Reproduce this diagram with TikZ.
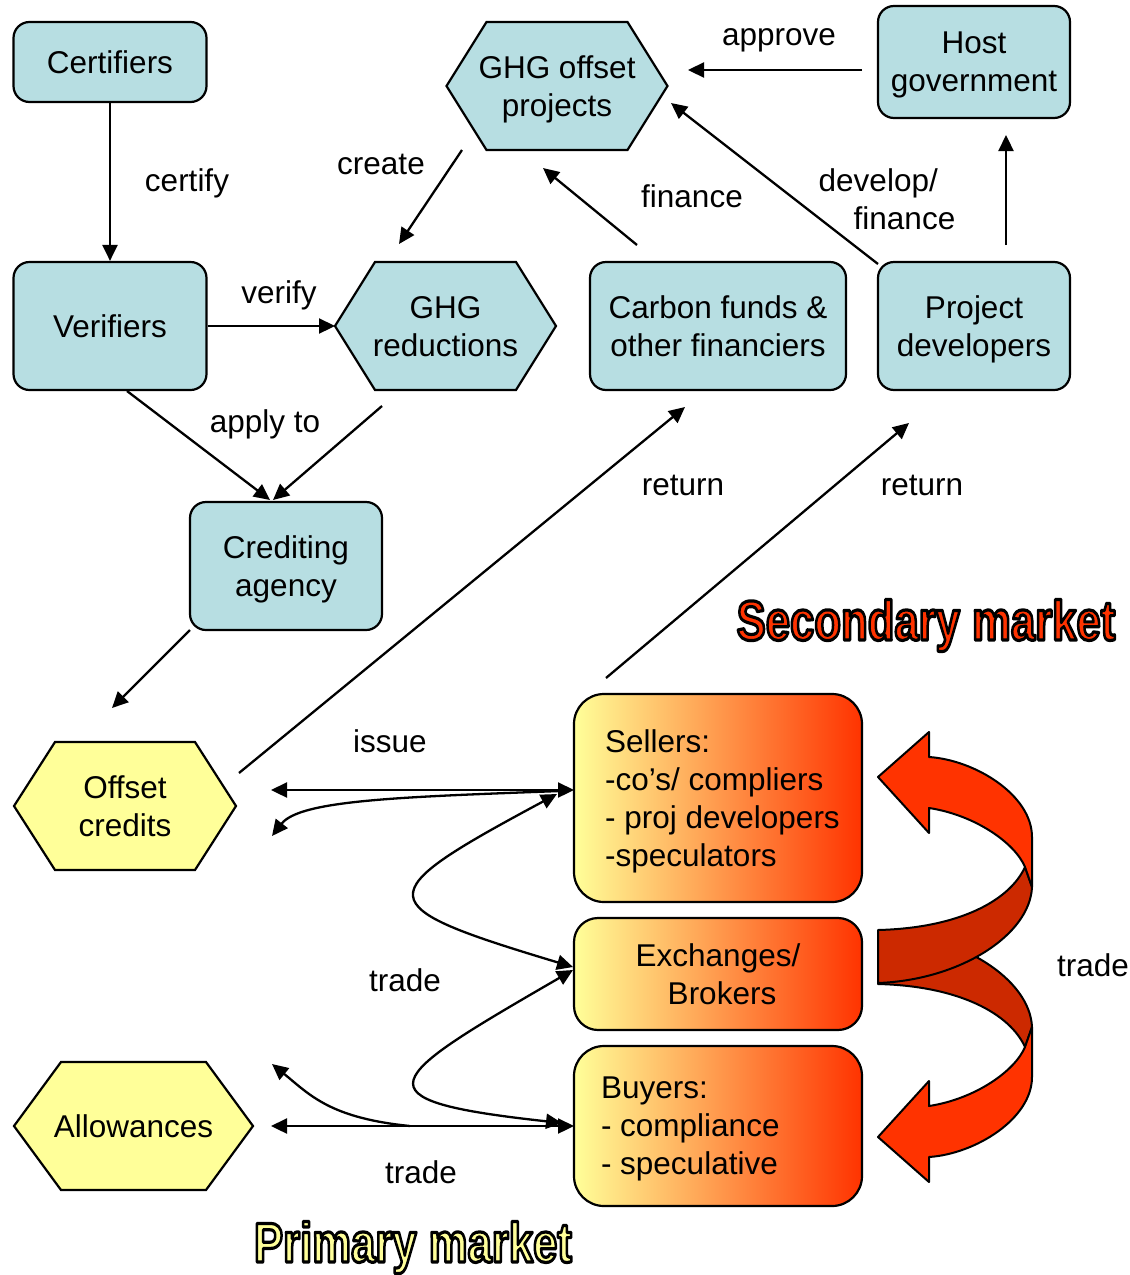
\documentclass[tikz,border=0pt]{standalone}
\usepackage{fontspec}
\usepackage{graphicx}
\setmainfont{Liberation Sans}
\usetikzlibrary{arrows.meta,calc}
\definecolor{boxblue}{RGB}{183,222,226}
\definecolor{cyellow}{RGB}{255,255,153}
\definecolor{cred}{RGB}{255,51,0}
\definecolor{cdark}{RGB}{204,41,0}
\newcommand\hexshape[5]{%
  \filldraw[line width=2.2pt, fill=#5] ({#1-#3},{#2}) -- ({#1-#3+#4},{#2-64}) -- ({#1+#3-#4},{#2-64}) -- ({#1+#3},{#2}) -- ({#1+#3-#4},{#2+64}) -- ({#1-#3+#4},{#2+64}) -- cycle;}
\newcommand\ind{\hspace*{9pt}}
\newcommand\outlined[2]{\textcolor{#1}{\special{pdf:code q 2 Tr 3.2 w 0 0 0 RG 1 j}#2\special{pdf:code Q}}}
\begin{document}
\begin{tikzpicture}[x=1pt,y=-1pt,
  every node/.style={font=\fontsize{31.5}{38}\selectfont, align=center, inner sep=0pt, text depth=0pt},
  bluebox/.style={draw=black, line width=2.2pt, fill=boxblue, rounded corners=16pt},
  gradbox/.style={draw=black, line width=2.2pt, left color=cyellow, right color=cred, rounded corners=30pt},
  conn/.style={line width=2.3pt, -{Triangle[length=16pt,width=15pt]}},
  dconn/.style={line width=2.3pt, {Triangle[length=16pt,width=15pt]}-{Triangle[length=16pt,width=15pt]}},
  bigtxt/.style={font=\fontsize{56}{60}\bfseries\selectfont, anchor=base},
  ribbon/.style={draw=black, line width=2pt, line join=round}
]
\useasboundingbox (0,0) rectangle (1130,1275);

% ---- boxes ----
\node[bluebox, minimum width=193pt, minimum height=80pt] (cert) at (110,62) {Certifiers};
\node[bluebox, minimum width=193pt, minimum height=128pt] (ver) at (110,326) {Verifiers};
\node[bluebox, minimum width=192pt, minimum height=112pt] (host) at (974,62) {Host\\government};
\node[bluebox, minimum width=256pt, minimum height=128pt] (cf) at (718,326) {Carbon funds \&\\other financiers};
\node[bluebox, minimum width=192pt, minimum height=128pt] (pd) at (974,326) {Project\\developers};
\node[bluebox, minimum width=192pt, minimum height=128pt] (ca) at (286,566) {Crediting\\agency};
\node[gradbox, minimum width=288pt, minimum height=208pt, align=left] (sel) at (718,798) {\ind Sellers:\\\ind-co’s/ compliers\\\ind- proj developers\\\ind-speculators};
\node[gradbox, rounded corners=24pt, minimum width=288pt, minimum height=112pt] (exch) at (718,974) {Exchanges/\\\hspace*{8pt}Brokers};
\node[gradbox, minimum width=288pt, minimum height=160pt, align=left] (buy) at (718,1126) {\makebox[234pt][l]{Buyers:}\\- compliance\\- speculative};

% ---- hexagons ----
\hexshape{557}{86}{110.5}{40}{boxblue}
\node (ghgp) at (557,86) {GHG offset\\projects};
\hexshape{445.5}{326}{110.5}{40}{boxblue}
\node (ghgr) at (445.5,326) {GHG\\reductions};
\hexshape{125}{806}{111}{41}{cyellow}
\node (oc) at (125,806) {Offset\\credits};
\hexshape{133.5}{1126}{119.5}{47}{cyellow}
\node (allw) at (133.5,1126) {Allowances};

% ---- free-end coordinates ----
\coordinate (ghgrW) at (335,326);
\coordinate (cr1) at (462,150); \coordinate (cr2) at (399,244);
\coordinate (ap1) at (862,70);  \coordinate (ap2) at (688,70);
\coordinate (fi1) at (637,245); \coordinate (fi2) at (543,168);
\coordinate (df1) at (878,264); \coordinate (df2) at (671,103);
\coordinate (ph1) at (1006,245); \coordinate (ph2) at (1006,135);
\coordinate (ap3) at (127,391); \coordinate (ap4) at (270,500);
\coordinate (ap5) at (382,406); \coordinate (ap6) at (273,500);
\coordinate (is1) at (190,630); \coordinate (is2) at (112,708);
\coordinate (rt1) at (239,773); \coordinate (rt2) at (685,407);
\coordinate (rt3) at (606,678); \coordinate (rt4) at (909,423);
\coordinate (ocE) at (271,790); \coordinate (selW) at (574,790);
\coordinate (ocE2) at (272,836); \coordinate (selW2) at (560,791);
\coordinate (selW3) at (557,794); \coordinate (exW1) at (573,967);
\coordinate (exW2) at (573,970); \coordinate (buW2) at (562,1123);
\coordinate (alE) at (271,1126); \coordinate (buW) at (574,1126);
\coordinate (alE2) at (272,1064); \coordinate (al3) at (410,1126);

% ---- connectors ----
\draw[conn] (cert.south) -- (ver.north);
\draw[conn] (ver.east) -- (ghgrW);
\draw[conn] (cr1) -- (cr2);
\draw[conn] (ap1) -- (ap2);
\draw[conn] (fi1) -- (fi2);
\draw[conn] (df1) -- (df2);
\draw[conn] (ph1) -- (ph2);
\draw[conn] (ap3) -- (ap4);
\draw[conn] (ap5) -- (ap6);
\draw[conn] (is1) -- (is2);
\draw[conn] (rt1) -- (rt2);
\draw[conn] (rt3) -- (rt4);
\draw[dconn] (ocE) -- (selW);
\draw[conn] (selW2) .. controls (400,797) and (300,800) .. (ocE2);
\draw[dconn] (selW3) .. controls (367,896) and (367,905) .. (exW1);
\draw[dconn] (exW2) .. controls (383,1080) and (351,1100) .. (buW2);
\draw[dconn] (alE) -- (buW);
\draw[conn] (al3) .. controls (330,1118) and (310,1095) .. (alE2);

% ---- labels ----
\node (lcert) at (187,180) {certify};
\node (lcreate) at (381,164) {create};
\node (lappr) at (779,37) {approve};
\node (lfin) at (692,196) {finance};
\node[align=left] (ldev) at (887,199.5) {develop/\\\hspace*{35pt}finance};
\node (lver) at (279,292) {verify};
\node (lapply) at (265,421) {apply to};
\node (lret1) at (683,485) {return};
\node (lret2) at (922,485) {return};
\node (liss) at (390,741) {issue};
\node (ltr1) at (405,980) {trade};
\node (ltr2) at (421,1172) {trade};
\node (ltr3) at (1093,965) {trade};

% ---- big red ribbon arrows ----
\foreach \s in {-1,1}{
  \filldraw[ribbon, fill=cdark]
    (878,{957-\s*27}) .. controls (960,{957-\s*29}) and (1010,{957-\s*57}) .. (1025,{957-\s*90})
    -- (1032,{957-\s*70})
    .. controls (1030,{957-\s*22}) and (960,{957+\s*23}) .. (878,{957+\s*26}) -- cycle;
  \filldraw[ribbon, fill=cred]
    (1025,{957-\s*90}) -- (1032,{957-\s*70}) -- (1032,{957-\s*120})
    .. controls (1032,{957-\s*162}) and (975,{957-\s*197}) .. (929,{957-\s*200})
    -- (929,{957-\s*225}) -- (878,{957-\s*180}) -- (929,{957-\s*124}) -- (929,{957-\s*149})
    .. controls (975,{957-\s*142}) and (1015,{957-\s*114}) .. (1025,{957-\s*90}) -- cycle;
}

% ---- market titles ----
\node[bigtxt] (sec) at (926,640) {\outlined{cred}{\scalebox{0.78}[1]{Secondary market}}};
\node[bigtxt] (pri) at (413,1262) {\outlined{cyellow}{\scalebox{0.78}[1]{Primary market}}};
\end{tikzpicture}
\end{document}
